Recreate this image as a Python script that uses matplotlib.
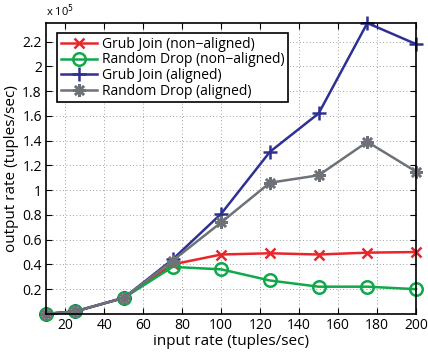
import matplotlib
matplotlib.use("Agg")
import matplotlib.pyplot as plt
import numpy as np

# input rates (tuples/sec)
input_rate = [10, 25, 50, 75, 100, 125, 150, 175, 200]

# output rates in units of 1e5 tuples/sec
grub_non_aligned = [0.0, 0.02, 0.13, 0.40, 0.48, 0.49, 0.48, 0.495, 0.50]
random_non_aligned = [0.0, 0.02, 0.13, 0.38, 0.36, 0.27, 0.22, 0.22, 0.20]
grub_aligned = [0.0, 0.02, 0.13, 0.44, 0.81, 1.31, 1.62, 2.35, 2.18]
random_aligned = [0.0, 0.02, 0.13, 0.43, 0.74, 1.06, 1.12, 1.39, 1.15]

labels = ["Grub Join (non\u2212aligned)", "Random Drop (non\u2212aligned)",
          "Grub Join (aligned)", "Random Drop (aligned)"]

xticks = [20, 40, 60, 80, 100, 120, 140, 160, 180, 200]
yticks = [0.2, 0.4, 0.6, 0.8, 1.0, 1.2, 1.4, 1.6, 1.8, 2.0, 2.2]

plt.rcParams['font.family'] = ['Open Sans', 'DejaVu Sans']

fig = plt.figure(figsize=(4.28, 3.6), dpi=100)
ax = fig.add_axes([0.1075, 0.128, 0.8645, 0.808])

ax.plot(input_rate, grub_non_aligned, color="#e8262b", lw=1.8, marker="x",
        ms=7, mew=1.8, label=labels[0], clip_on=False)
ax.plot(input_rate, random_non_aligned, color="#10a84b", lw=1.8, marker="o",
        ms=9, mew=1.8, mfc="none", label=labels[1], clip_on=False)
ax.plot(input_rate, grub_aligned, color="#2e3192", lw=1.8, marker="+",
        ms=10, mew=1.8, label=labels[2], clip_on=False)
ax.plot(input_rate, random_aligned, color="#6d7278", lw=1.8, marker=(8, 2, 0),
        ms=9, mew=1.8, label=labels[3], clip_on=False)

ax.set_xlim(10, 200)
ax.set_ylim(0, 2.35)
ax.set_xticks(xticks)
ax.set_yticks(yticks)
ax.set_yticklabels(["%g" % v for v in yticks])
ax.tick_params(direction="in", top=True, right=True, labelsize=10, length=4,
               width=0.8, pad=3)
ax.grid(True, linestyle=(0, (1, 3)), color="#808080", linewidth=0.6)
for s in ax.spines.values():
    s.set_linewidth(1.2)

ax.set_xlabel("input rate (tuples/sec)", fontsize=11, labelpad=1)
ax.set_ylabel("output rate (tuples/sec)", fontsize=11, labelpad=2)
ax.text(0.0, 1.015, r"x 10$^{5}$", transform=ax.transAxes, fontsize=8,
        ha="left", va="bottom")

leg = ax.legend(loc="upper left", bbox_to_anchor=(0.03, 0.965), fontsize=10,
                fancybox=False, framealpha=1, edgecolor="black",
                borderpad=0.25, labelspacing=0.05, handlelength=2.6,
                handletextpad=0.4, borderaxespad=0)
leg.get_frame().set_linewidth(1.2)

fig.savefig("out.png", dpi=100)
